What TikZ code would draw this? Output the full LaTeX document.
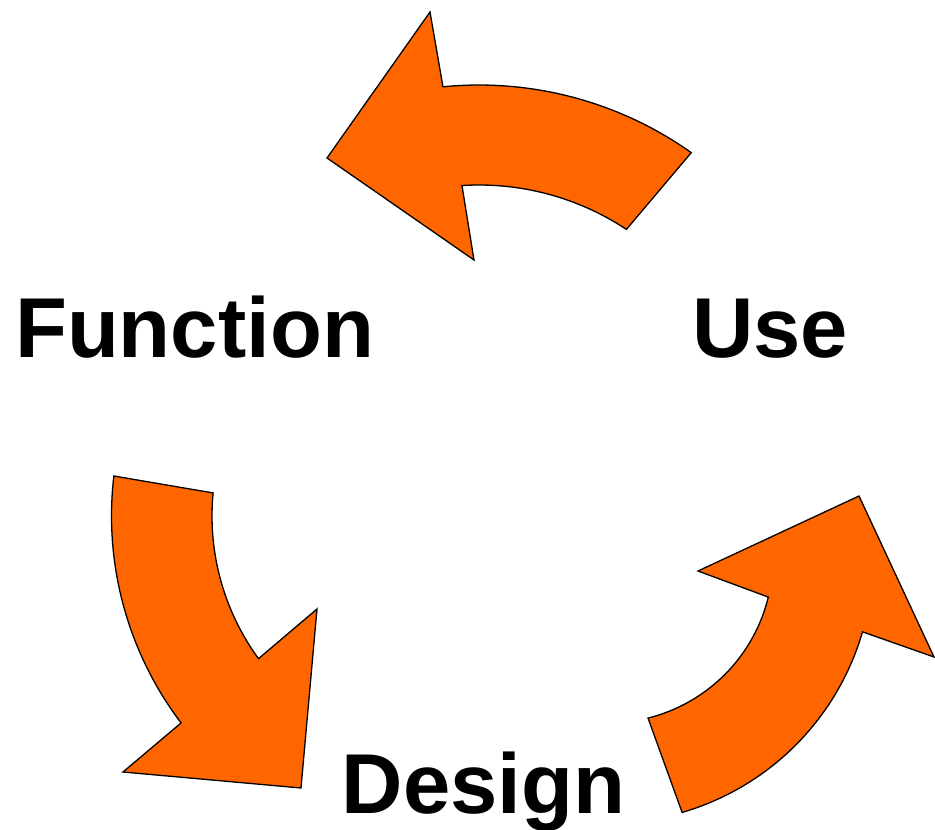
\documentclass[tikz,border=0pt]{standalone}
\usepackage{fontspec}
\setmainfont{Liberation Sans}
\definecolor{arroworange}{HTML}{FF6600}
\tikzset{
  cyclearrow/.style={fill=arroworange, draw=black, line width=1.3pt, line join=miter},
  lbl/.style={inner sep=0pt, outer sep=0pt, font=\fontsize{85}{85}\selectfont\bfseries, text=black}
}
\begin{document}
\begin{tikzpicture}[x=1pt, y=-1pt]
\useasboundingbox (0,0) rectangle (935,830);
% top arrow (Use -> Function)
\filldraw[cyclearrow] (430,12) -- (443,87)
  -- plot[domain=-95.63:-54.66, samples=50, variable=\t] ({479+367*cos(\t)},{452+367*sin(\t)})
  -- plot[domain=-56.49:-93.66, samples=50, variable=\t] ({479+267*cos(\t)},{452+267*sin(\t)})
  -- (474,260) -- (327,158) -- cycle;
% left arrow (Function -> Design)
\filldraw[cyclearrow]
  plot[domain=186.71:142.83, samples=50, variable=\t] ({454+342.5*cos(\t)},{516+342.5*sin(\t)})
  -- (123,772) -- (301,788) -- (317,609)
  -- plot[domain=143.88:185.47, samples=50, variable=\t] ({454+242*cos(\t)},{516+242*sin(\t)})
  -- cycle;
% right arrow (Design -> Use)
\filldraw[cyclearrow]
  plot[domain=73.76:16.18, samples=50, variable=\t] ({608+265*cos(\t)},{558+265*sin(\t)})
  -- (934,657) -- (859,496) -- (698,571)
  -- plot[domain=13.70:75.96, samples=50, variable=\t] ({608+165*cos(\t)},{558+165*sin(\t)})
  -- cycle;
\node[lbl, anchor=base] (function) at (194.5,357) {Function};
\node[lbl, anchor=base] (use) at (770,357) {Use};
\node[lbl, anchor=base] (design) at (483.5,813) {Design};
\end{tikzpicture}
\end{document}
